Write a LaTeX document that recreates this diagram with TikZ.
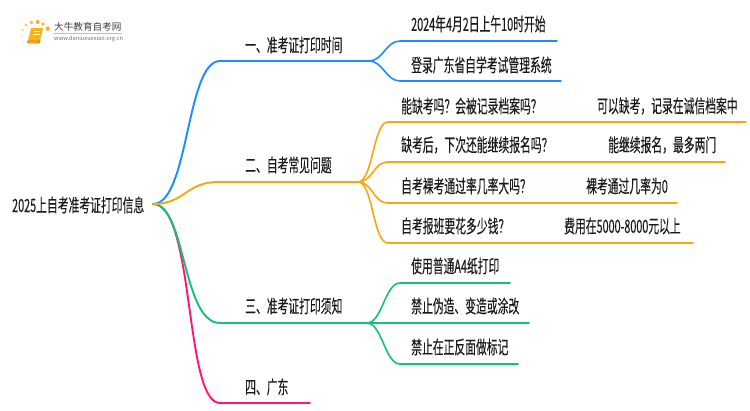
\documentclass[tikz,border=0pt]{standalone}
\usepackage{fontspec}
\setmainfont{Noto Sans CJK SC}
\newfontfamily\labfont[FakeBold=0.2]{Noto Sans CJK SC}
\definecolor{cblue}{HTML}{1E8CFA}
\definecolor{corange}{HTML}{F7A80F}
\definecolor{cgreen}{HTML}{14C277}
\definecolor{cpink}{HTML}{FF1478}
\definecolor{ctext}{HTML}{1A1A1A}
\newcommand{\squeezed}[1]{\scalebox{0.74}[1.25]{#1}}
\tikzset{
  x=1pt,y=-1pt,
  lab/.style={anchor=west,inner sep=0pt,text=ctext,font=\labfont\fontsize{14.6pt}{16pt}\selectfont},
  main/.style={line width=1.9pt,line cap=round},
  sub/.style={line width=1.6pt,line cap=round},
}
\begin{document}
\begin{tikzpicture}
\useasboundingbox (0,0) rectangle (750,410);
\fill[white] (0,0) rectangle (750,410);
% logo
\foreach \xx/\yy/\rr/\op in {21.7/36/1.1/.3,22.7/30/1.4/.45,26/25/1.6/.6,31.5/22.5/1.9/.8,37.7/22/2/.9,43/24/1.8/.85,47.7/28.7/2.2/.9,23/42.5/1/.25}
  \fill[corange,opacity=\op] (\xx,\yy) circle (\rr);
\fill[corange!85!yellow] (31,28) -- (43,28) -- (40,41) -- (28,41) -- cycle;
\draw[orange!85!black,line width=.8pt,fill=orange!60] (28,41) .. controls (27,43) and (28,43) .. (29,43) -- (39,43) -- (40,41) -- cycle;
\draw[white,line width=.7pt] (33.5,31.5) -- (40,31.5) (33,34) -- (39.5,34);
\node[anchor=west,inner sep=0pt,text=black!75,font=\fontsize{9.6pt}{10pt}\selectfont] (logoname) at (54,27) {大牛教育自考网};
\draw[black!25,line width=.5pt] (54,33) -- (122,33);
\node[anchor=west,inner sep=0pt,text=black!55,font=\fontsize{5.7pt}{6pt}\selectfont] (logourl) at (54,39) {www.daniuxuexiao.org.cn};
% coordinates
\coordinate (root) at (153,204);
\coordinate (a1) at (220,61);  \coordinate (a1e) at (369,61);
\coordinate (a2) at (218,182); \coordinate (a2e) at (358,182);
\coordinate (a3) at (220,323); \coordinate (a3e) at (367,323);
\coordinate (a4) at (220,403); \coordinate (a4e) at (310,403);
\coordinate (b1) at (400,41);  \coordinate (b1e) at (557,41);
\coordinate (b2) at (400,81);  \coordinate (b2e) at (561,81);
\coordinate (c1) at (388,122); \coordinate (c1e) at (746,122);
\coordinate (c2) at (388,162); \coordinate (c2e) at (725,162);
\coordinate (c3) at (388,203); \coordinate (c3e) at (677,203);
\coordinate (c4) at (388,243); \coordinate (c4e) at (693,243);
\coordinate (d1) at (400,283); \coordinate (d1e) at (510,283);
\coordinate (d2) at (400,323); \coordinate (d2e) at (529,323);
\coordinate (d3) at (400,364); \coordinate (d3e) at (518,364);
% connectors
\draw[main,cpink] (root) .. controls +(42,0) and +(-36,0) .. (a4) -- (a4e);
\draw[main,cgreen] (root) .. controls +(33,0) and +(-38,0) .. (a3) -- (a3e);
\draw[main,cblue] (root) .. controls +(36,0) and +(-34,0) .. (a1) -- (a1e);
\draw[main,corange] (root) .. controls +(32,0) and +(-32,0) .. (a2) -- (a2e);
\foreach \t in {b1,b2} \draw[sub,cblue] (a1e) .. controls +(14,0) and +(-14,0) .. (\t) -- (\t e);
\foreach \t in {c1,c2,c3,c4} \draw[sub,corange] (a2e) .. controls +(15,0) and +(-15,0) .. (\t) -- (\t e);
\foreach \t in {d1,d3} \draw[sub,cgreen] (a3e) .. controls +(15,0) and +(-15,0) .. (\t) -- (\t e);
\draw[sub,cgreen] (a3e) -- (d2e);
% labels
\node[lab] (troot) at (12,205) {\squeezed{2025上自考准考证打印信息}};
\node[lab] (ta1) at (245,45) {\squeezed{一、准考证打印时间}};
\node[lab] (ta2) at (245,165) {\squeezed{二、自考常见问题}};
\node[lab] (ta3) at (245,306) {\squeezed{三、准考证打印须知}};
\node[lab] (ta4) at (245,387) {\squeezed{四、广东}};
\node[lab] (tb1) at (411,24) {\squeezed{2024年4月2日上午10时开始}};
\node[lab] (tb2) at (411,65) {\squeezed{登录广东省自学考试管理系统}};
\node[lab] (tc1) at (401,106) {\squeezed{能缺考吗？会被记录档案吗？}};
\node[lab] (tc1a) at (597,106) {\squeezed{可以缺考，记录在诚信档案中}};
\node[lab] (tc2) at (401,145) {\squeezed{缺考后，下次还能继续报名吗？}};
\node[lab] (tc2a) at (608,145) {\squeezed{能继续报名，最多两门}};
\node[lab] (tc3) at (401,186) {\squeezed{自考裸考通过率几率大吗？}};
\node[lab] (tc3a) at (586,186) {\squeezed{裸考通过几率为0}};
\node[lab] (tc4) at (401,226) {\squeezed{自考报班要花多少钱？}};
\node[lab] (tc4a) at (564,226) {\squeezed{费用在5000-8000元以上}};
\node[lab] (td1) at (411,266) {\squeezed{使用普通A4纸打印}};
\node[lab] (td2) at (411,306) {\squeezed{禁止伪造、变造或涂改}};
\node[lab] (td3) at (411,347) {\squeezed{禁止在正反面做标记}};
\end{tikzpicture}
\end{document}
